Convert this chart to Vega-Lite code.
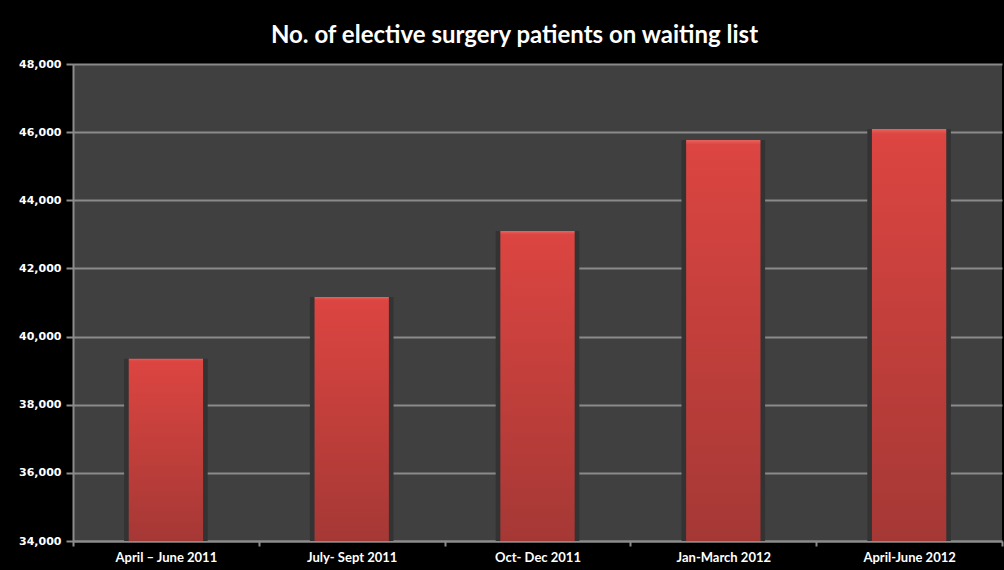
{
  "$schema": "https://vega.github.io/schema/vega-lite/v6.json",
  "autosize": {"type": "none"},
  "width": 929,
  "height": 477,
  "padding": {"left": 73, "top": 64, "right": 2, "bottom": 29},
  "background": "#000000",
  "title": {
    "text": "No. of elective surgery patients on waiting list",
    "font": "Lato",
    "fontSize": 24,
    "fontWeight": "bold",
    "color": "#ffffff",
    "anchor": "middle",
    "dx": -23,
    "offset": 10
  },
  "data": {
    "values": [
      {"period": "April – June 2011", "patients": 39350},
      {"period": "July- Sept 2011", "patients": 41160},
      {"period": "Oct- Dec 2011", "patients": 43100},
      {"period": "Jan-March 2012", "patients": 45770},
      {"period": "April-June 2012", "patients": 46090}
    ]
  },
  "encoding": {
    "x": {
      "field": "period",
      "type": "nominal",
      "sort": null,
      "title": null,
      "scale": {"paddingInner": 0, "paddingOuter": 0},
      "axis": {
        "labelAngle": 0,
        "labelFont": "Lato",
        "labelFontSize": 13,
        "labelFontWeight": "bold",
        "labelColor": "#ffffff",
        "tickBand": "extent",
        "tickColor": "#8c8c8c",
        "tickWidth": 2,
        "tickSize": 5,
        "labelPadding": 5,
        "domainColor": "#8c8c8c",
        "domainWidth": 2,
        "grid": false
      }
    },
    "y": {
      "field": "patients",
      "type": "quantitative",
      "title": null,
      "scale": {"domain": [34000, 48000], "zero": false, "nice": false, "clamp": true},
      "axis": {
        "values": [34000, 36000, 38000, 40000, 42000, 44000, 46000, 48000],
        "labelExpr": "format(datum.value, ',d')",
        "labelFont": "DejaVu Sans",
        "labelFontSize": 11,
        "labelFontWeight": "bold",
        "labelColor": "#ffffff",
        "tickColor": "#8c8c8c",
        "tickWidth": 2,
        "tickSize": 7,
        "labelPadding": 5,
        "domainColor": "#8c8c8c",
        "domainWidth": 2,
        "grid": true,
        "gridColor": "#8a8a8a",
        "gridWidth": 2
      }
    }
  },
  "layer": [
    {
      "mark": {"type": "bar", "color": "#333333", "width": {"band": 0.45}, "clip": true}
    },
    {
      "mark": {
        "type": "bar",
        "clip": true,
        "width": {"band": 0.4},
        "color": {
          "gradient": "linear",
          "x1": 0, "y1": 0, "x2": 0, "y2": 1,
          "stops": [
            {"offset": 0, "color": "#e8625c"},
            {"offset": 0.012, "color": "#dc4541"},
            {"offset": 1, "color": "#a53835"}
          ]
        }
      }
    }
  ],
  "config": {
    "view": {"fill": "#404040", "stroke": null}
  }
}
